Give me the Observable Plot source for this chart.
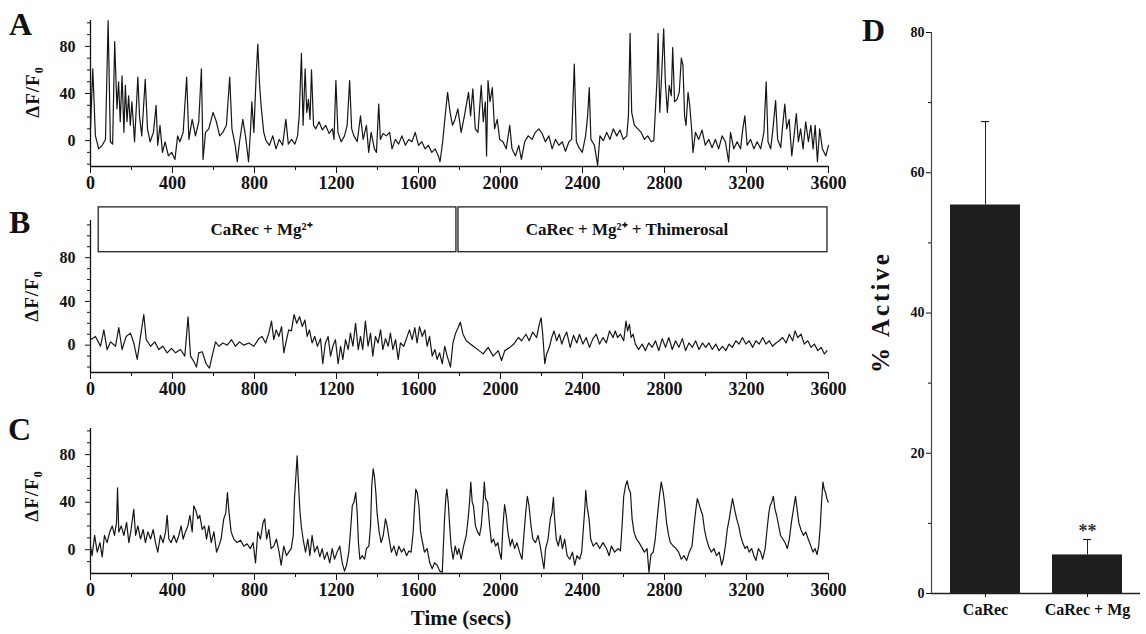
<!DOCTYPE html>
<html>
<head>
<meta charset="utf-8">
<script src="https://cdn.jsdelivr.net/npm/d3@7"></script>
<script src="https://cdn.jsdelivr.net/npm/@observablehq/plot@0.6"></script>
<style>
  body { margin: 0; background: #fff; }
  #fig { position: relative; width: 1146px; height: 634px; background: #fff; overflow: hidden;
         font-family: "Liberation Serif", "Times New Roman", serif; font-weight: bold; color: #111; }
  .abs { position: absolute; line-height: 1; white-space: nowrap; }
  .letter { font-size: 32px; }
  .ylab { font-size: 19px; letter-spacing: 1px; transform: translate(-50%, -50%) rotate(-90deg); }
  .ylab sub { font-size: 12px; vertical-align: -4px; }
</style>
</head>
<body>
<div id="fig">
  <div class="abs letter" style="left:9px;top:8px">A</div>
  <div class="abs letter" style="left:9px;top:206px">B</div>
  <div class="abs letter" style="left:8px;top:413px">C</div>
  <div class="abs letter" style="left:862px;top:14px">D</div>
  <div class="abs ylab" style="left:34px;top:92px">ΔF/F<sub>0</sub></div>
  <div class="abs ylab" style="left:33px;top:296px">ΔF/F<sub>0</sub></div>
  <div class="abs ylab" style="left:33px;top:496px">ΔF/F<sub>0</sub></div>
  <div class="abs" style="left:461px;top:608px;font-size:21px;transform:translateX(-50%)">Time (secs)</div>
  <div class="abs" style="left:880px;top:312px;font-size:25px;letter-spacing:3px;transform:translate(-50%,-50%) rotate(-90deg)">% Active</div>
  <div id="pA" class="abs" style="left:0;top:0"></div>
  <div id="pB" class="abs" style="left:0;top:200px"></div>
  <div id="pC" class="abs" style="left:0;top:410px"></div>
  <div id="pD" class="abs" style="left:860px;top:0"></div>
</div>
<script>
// ---------- data ----------
const xMajorTicks = [0, 400, 800, 1200, 1600, 2000, 2400, 2800, 3200, 3600];
const xMinorTicks = [200, 600, 1000, 1400, 1800, 2200, 2600, 3000, 3400];
const yMajorTicks = [0, 40, 80];
const yMinorTicks = [-20, -10, 10, 20, 30, 50, 60, 70, 90, 100, 110];

// Trace A: [time (s), ΔF/F0]
const traceA = [[0,10],[11,61],[24,4],[40,-7],[57,-4],[73,1],[86,102],[97,-1],[108,-3],[118,84],[129,27],[137,50],[145,16],[154,55],[163,7],[170,47],[178,16],[186,38],[194,13],[202,33],[215,-1],[231,54],[239,21],[250,4],[267,52],[278,10],[291,-1],[307,7],[320,30],[328,-4],[339,13],[351,-10],[364,-1],[380,-13],[396,-10],[412,-16],[425,4],[436,-1],[452,7],[469,54],[480,1],[496,18],[512,4],[528,16],[541,61],[549,-16],[561,7],[577,10],[598,24],[614,16],[630,4],[646,7],[663,13],[679,54],[690,10],[706,-4],[716,-18],[727,-1],[743,18],[756,4],[771,-18],[781,10],[787,33],[797,7],[808,55],[816,82],[824,50],[832,30],[845,7],[856,0],[873,-4],[889,4],[905,-7],[921,1],[937,-4],[953,18],[965,-3],[981,1],[997,-3],[1010,4],[1018,21],[1029,74],[1037,13],[1047,61],[1055,24],[1063,35],[1071,18],[1078,60],[1088,13],[1099,10],[1115,16],[1131,9],[1147,13],[1164,6],[1180,10],[1188,1],[1197,51],[1207,7],[1223,-1],[1239,4],[1252,13],[1264,51],[1274,10],[1285,4],[1301,-1],[1317,21],[1330,1],[1346,13],[1357,-10],[1369,7],[1385,-7],[1395,-10],[1406,31],[1414,1],[1427,6],[1443,4],[1459,7],[1471,-7],[1487,1],[1503,-3],[1519,4],[1536,-4],[1552,1],[1568,-1],[1584,7],[1600,-4],[1616,-1],[1632,-7],[1648,-4],[1665,-10],[1681,-7],[1697,-13],[1705,-18],[1718,-1],[1730,21],[1742,41],[1754,24],[1766,13],[1778,18],[1792,27],[1808,7],[1824,21],[1844,41],[1854,21],[1865,44],[1877,10],[1890,7],[1906,47],[1916,16],[1926,33],[1932,-13],[1939,51],[1949,33],[1960,45],[1971,10],[1984,18],[1996,1],[2012,-1],[2028,-7],[2045,13],[2056,-7],[2073,-13],[2089,-4],[2102,-16],[2118,-1],[2135,4],[2154,1],[2170,7],[2187,10],[2203,6],[2219,-1],[2236,4],[2252,-7],[2268,1],[2285,-4],[2301,-1],[2317,-9],[2334,-1],[2347,1],[2360,65],[2370,-1],[2383,-6],[2399,-10],[2415,4],[2425,21],[2433,45],[2441,1],[2458,-4],[2474,-21],[2485,4],[2502,0],[2518,7],[2534,1],[2550,10],[2567,4],[2583,9],[2599,1],[2616,4],[2624,21],[2632,91],[2640,24],[2653,13],[2670,10],[2686,7],[2702,1],[2718,4],[2735,-1],[2748,0],[2755,24],[2763,50],[2769,91],[2777,24],[2786,55],[2796,95],[2804,50],[2814,24],[2823,47],[2833,38],[2840,79],[2849,33],[2861,35],[2872,41],[2882,70],[2890,64],[2898,21],[2905,13],[2915,41],[2923,30],[2931,13],[2939,-10],[2951,7],[2967,1],[2983,9],[2999,-4],[3016,1],[3032,-6],[3048,1],[3064,-7],[3081,4],[3097,-1],[3113,-18],[3122,7],[3138,-7],[3154,-1],[3171,-7],[3182,10],[3192,21],[3203,-4],[3220,1],[3236,-7],[3252,-1],[3269,-7],[3285,7],[3296,50],[3305,-1],[3318,-7],[3329,10],[3342,34],[3352,1],[3367,-6],[3375,10],[3387,31],[3396,10],[3408,18],[3421,-13],[3432,4],[3443,23],[3453,-1],[3464,10],[3476,-7],[3489,16],[3502,-1],[3514,13],[3525,-7],[3535,13],[3546,-18],[3557,10],[3570,-7],[3587,-13],[3600,-4]];

// Trace B
const traceB = [[0,5],[24,8],[49,-1],[65,14],[81,-4],[98,3],[122,-1],[138,16],[154,-4],[174,8],[195,11],[211,2],[228,-13],[244,8],[260,28],[272,5],[293,-1],[314,3],[333,-4],[353,-1],[374,-7],[395,-3],[415,-7],[439,-4],[460,-10],[476,26],[488,-10],[504,-15],[517,-20],[528,-7],[545,-6],[564,-17],[580,-21],[597,-7],[610,3],[626,-1],[646,2],[667,0],[688,5],[707,-1],[727,3],[748,0],[772,2],[797,-1],[821,6],[837,8],[854,2],[870,11],[883,22],[894,5],[906,14],[919,8],[932,17],[943,-7],[954,3],[967,14],[980,13],[993,28],[1006,20],[1020,26],[1033,17],[1046,23],[1057,8],[1068,14],[1081,2],[1094,8],[1107,-1],[1122,6],[1133,-17],[1146,2],[1159,8],[1171,-10],[1182,-1],[1195,5],[1208,-17],[1220,-1],[1231,-13],[1244,5],[1257,-4],[1268,11],[1280,-1],[1293,20],[1306,-4],[1317,8],[1328,-4],[1341,22],[1354,-1],[1366,11],[1377,-10],[1390,8],[1403,2],[1415,14],[1426,-4],[1439,6],[1452,-1],[1463,11],[1475,-4],[1488,5],[1501,-13],[1512,2],[1528,-1],[1545,8],[1556,14],[1569,5],[1582,16],[1593,2],[1605,17],[1618,8],[1631,14],[1642,-1],[1654,8],[1667,-10],[1680,-4],[1691,-13],[1703,-7],[1716,-17],[1728,-1],[1740,-10],[1756,-20],[1768,2],[1781,11],[1793,16],[1804,21],[1817,10],[1833,4],[1853,1],[1874,-2],[1896,-5],[1915,-8],[1940,-2],[1964,-10],[1989,-5],[2005,-14],[2021,-5],[2046,-2],[2065,1],[2087,7],[2103,4],[2124,10],[2140,4],[2157,12],[2176,7],[2189,19],[2198,25],[2206,10],[2216,-17],[2225,-8],[2238,-2],[2250,7],[2261,13],[2274,4],[2287,10],[2299,1],[2310,7],[2323,12],[2340,-2],[2356,9],[2372,2],[2385,10],[2402,1],[2418,7],[2434,-2],[2451,6],[2467,10],[2483,1],[2500,7],[2516,2],[2532,13],[2549,7],[2560,13],[2571,7],[2585,10],[2601,4],[2612,22],[2620,13],[2629,19],[2637,7],[2647,10],[2658,1],[2674,-4],[2691,1],[2707,-5],[2723,2],[2740,-2],[2756,4],[2772,-5],[2789,6],[2805,-2],[2821,7],[2838,-4],[2854,4],[2870,-2],[2887,6],[2903,-5],[2919,2],[2936,-2],[2952,4],[2968,-4],[2985,2],[3001,-2],[3017,2],[3033,-4],[3050,1],[3066,-5],[3083,-1],[3099,-5],[3115,1],[3131,-2],[3148,4],[3164,1],[3180,7],[3197,1],[3213,4],[3230,-2],[3246,4],[3262,1],[3279,7],[3295,1],[3311,4],[3327,-1],[3344,2],[3360,4],[3376,7],[3393,2],[3409,10],[3425,4],[3437,13],[3450,7],[3466,10],[3482,1],[3499,4],[3515,-2],[3531,1],[3548,-5],[3564,-2],[3580,-8],[3593,-5]];

// Trace C
const traceC = [[0,3],[8,-5],[20,12],[33,-2],[46,6],[57,-6],[68,12],[81,6],[94,15],[106,20],[117,12],[127,23],[132,52],[138,15],[150,20],[163,12],[176,23],[187,6],[198,17],[211,34],[220,12],[231,20],[244,9],[257,17],[268,6],[280,15],[293,9],[306,17],[317,6],[328,-2],[341,12],[354,6],[366,15],[374,29],[382,9],[393,6],[407,12],[419,6],[431,12],[442,20],[452,9],[463,15],[475,20],[485,29],[496,15],[504,37],[514,33],[524,26],[533,29],[545,17],[556,20],[566,9],[577,20],[589,6],[602,15],[615,-2],[626,3],[637,9],[650,26],[660,31],[668,48],[676,31],[686,15],[699,9],[715,6],[732,8],[748,3],[764,5],[780,1],[793,6],[805,-11],[816,15],[829,9],[842,23],[850,26],[859,9],[870,17],[881,1],[894,3],[907,9],[919,-1],[930,-13],[943,3],[956,-5],[967,-2],[979,1],[989,12],[995,43],[1002,62],[1008,79],[1015,54],[1021,34],[1028,20],[1037,9],[1049,-2],[1060,9],[1070,-5],[1081,12],[1093,-2],[1106,3],[1119,-6],[1130,1],[1141,-8],[1154,-2],[1167,-11],[1179,1],[1190,-8],[1203,-2],[1216,3],[1228,-11],[1239,-18],[1249,-13],[1260,-2],[1268,15],[1277,37],[1285,40],[1294,48],[1301,31],[1307,6],[1314,-8],[1325,-5],[1337,-8],[1346,1],[1358,3],[1366,20],[1372,54],[1379,68],[1385,62],[1392,48],[1398,31],[1408,15],[1418,6],[1428,12],[1439,26],[1447,20],[1457,9],[1468,-2],[1480,3],[1493,-5],[1504,3],[1517,-2],[1529,1],[1542,-5],[1553,-1],[1564,-2],[1574,15],[1581,37],[1587,51],[1594,48],[1602,37],[1610,15],[1620,6],[1629,-2],[1642,1],[1655,-11],[1667,-16],[1678,-11],[1691,-13],[1704,-18],[1716,-19],[1720,-2],[1727,26],[1733,43],[1738,51],[1745,40],[1751,23],[1759,3],[1769,-8],[1779,3],[1789,-4],[1797,1],[1808,-8],[1820,3],[1833,12],[1842,26],[1849,40],[1855,57],[1862,40],[1868,37],[1878,20],[1888,15],[1898,12],[1906,20],[1914,37],[1921,57],[1927,43],[1937,40],[1947,20],[1956,6],[1966,9],[1976,3],[1987,6],[1995,-2],[2004,-8],[2012,20],[2020,38],[2028,29],[2036,15],[2048,3],[2057,9],[2069,1],[2080,6],[2093,-2],[2105,-8],[2114,12],[2123,31],[2131,45],[2139,37],[2149,20],[2158,9],[2171,6],[2183,12],[2194,3],[2204,-8],[2212,-16],[2220,1],[2232,9],[2243,26],[2251,31],[2258,44],[2264,26],[2272,9],[2282,3],[2292,12],[2302,1],[2313,9],[2325,-5],[2338,-8],[2351,-2],[2362,-13],[2373,-5],[2386,-8],[2396,-2],[2403,15],[2411,34],[2416,50],[2422,37],[2432,26],[2440,9],[2452,3],[2468,6],[2484,1],[2500,6],[2517,1],[2530,-5],[2541,3],[2557,-2],[2574,1],[2585,-1],[2593,20],[2601,45],[2610,54],[2618,58],[2626,51],[2634,48],[2642,26],[2651,15],[2663,9],[2676,6],[2689,2],[2702,-2],[2715,1],[2724,-19],[2734,-4],[2745,-2],[2755,9],[2764,26],[2774,43],[2784,57],[2794,48],[2802,37],[2810,23],[2820,12],[2829,6],[2843,3],[2856,1],[2869,-2],[2882,-8],[2895,-5],[2908,-9],[2921,-2],[2934,3],[2944,20],[2953,34],[2960,43],[2966,40],[2976,34],[2986,29],[2995,17],[3005,9],[3015,3],[3028,-2],[3041,1],[3054,-5],[3067,-2],[3079,-13],[3087,-8],[3097,3],[3106,17],[3116,26],[3126,37],[3132,43],[3142,34],[3152,26],[3162,20],[3171,12],[3181,6],[3193,1],[3203,3],[3213,-2],[3225,1],[3236,-5],[3246,-9],[3258,1],[3269,-2],[3279,-8],[3291,1],[3302,20],[3309,31],[3315,37],[3323,40],[3331,45],[3339,34],[3347,29],[3357,20],[3366,12],[3377,9],[3388,6],[3399,1],[3409,9],[3419,23],[3429,34],[3439,45],[3447,34],[3455,23],[3465,17],[3478,12],[3489,15],[3501,9],[3514,3],[3524,-2],[3534,1],[3544,-4],[3552,3],[3560,20],[3566,40],[3573,57],[3579,51],[3586,48],[3592,43],[3599,40]];

// Treatment periods shown above trace B
const periodStart = [40, 1795];
const periodEnd = [1785, 3595];
const periodLabels = ["CaRec + Mg²⁺", "CaRec + Mg²⁺ + Thimerosal"];

// Panel D bar chart
const barCategories = ["CaRec", "CaRec + Mg"];
const barValues = [55.4, 5.5];
const barErrors = [11.9, 2.2];
const barSignif = ["", "**"];
const dMajorTicks = [0, 20, 40, 60, 80];
const dMinorTicks = [10, 30, 50, 70];

// ---------- drawing ----------
const SERIF = '"Liberation Serif", "Times New Roman", serif';
const INK = "#161616";

function tracePanel(pairs, {height, marginTop, marginBottom, yDomain, extra = []}) {
  const data = pairs.map(([t, v]) => ({t, v}));
  const minor = yMinorTicks.filter(d => d > yDomain[0] && d < yDomain[1]);
  return Plot.plot({
    width: 860, height, marginLeft: 90, marginRight: 32, marginTop, marginBottom,
    style: {fontFamily: SERIF, fontWeight: "bold", color: "#111", background: "transparent", overflow: "visible"},
    x: {domain: [0, 3600]},
    y: {domain: yDomain},
    marks: [
      ...extra,
      Plot.line(data, {x: "t", y: "v", stroke: INK, strokeWidth: 1.2}),
      Plot.ruleY([yDomain[0]], {stroke: "#111", strokeWidth: 1.6}),
      Plot.ruleX([0], {y1: yDomain[0], y2: yDomain[1], stroke: "#111", strokeWidth: 1.3}),
      Plot.axisX(xMajorTicks, {tickSize: 7, tickPadding: 3, fontSize: 18, fontWeight: "bold", tickFormat: d => String(d), label: null}),
      Plot.axisX(xMinorTicks, {tickSize: 4, tickFormat: () => "", label: null}),
      Plot.axisY(yMajorTicks, {tickSize: 5, tickPadding: 10, fontSize: 16, fontWeight: "bold", tickFormat: d => String(d), label: null}),
      Plot.axisY(minor, {tickSize: 3, tickFormat: () => "", label: null})
    ]
  });
}

document.getElementById("pA").append(tracePanel(traceA, {height: 200, marginTop: 20, marginBottom: 34, yDomain: [-22, 102]}));

const periods = periodStart.map((s, i) => ({s, e: periodEnd[i], label: periodLabels[i], mid: (s + periodEnd[i]) / 2}));
document.getElementById("pB").append(tracePanel(traceB, {
  height: 210, marginTop: 20, marginBottom: 38, yDomain: [-25, 114],
  extra: [
    Plot.rect(periods, {x1: "s", x2: "e", y1: 85, y2: 126, fill: "white", stroke: "#222", strokeWidth: 1.3}),
    Plot.text(periods, {x: "mid", y: 105.5, text: "label", dx: -16, fontSize: 17, fontWeight: "bold", fill: "#111"})
  ]
}));

document.getElementById("pC").append(tracePanel(traceC, {height: 224, marginTop: 18, marginBottom: 61, yDomain: [-20, 102]}));

const barData = barCategories.map((c, i) => ({c, v: barValues[i], e: barErrors[i], s: barSignif[i]}));
document.getElementById("pD").append(Plot.plot({
  width: 286, height: 634, marginLeft: 71, marginRight: 6, marginTop: 32, marginBottom: 41,
  style: {fontFamily: SERIF, fontWeight: "bold", color: "#111", background: "transparent", overflow: "visible"},
  x: {type: "band", domain: barCategories, range: [74, 278], paddingInner: 0.314, paddingOuter: 0.157},
  y: {domain: [0, 80]},
  marks: [
    Plot.barY(barData, {x: "c", y: "v", fill: "#1e1e1e"}),
    Plot.ruleX(barData, {x: "c", y1: "v", y2: d => d.v + d.e, stroke: "#222", strokeWidth: 1}),
    Plot.tickY(barData, {x: "c", y: d => d.v + d.e, insetLeft: 31, insetRight: 31, stroke: "#222", strokeWidth: 1.2}),
    Plot.text(barData.filter(d => d.s), {x: "c", y: d => d.v + d.e, text: "s", dy: -8, fontSize: 18, fontWeight: "bold", fill: "#333"}),
    Plot.ruleY([0], {stroke: "#222", strokeWidth: 1.5}),
    Plot.frame({anchor: "left", stroke: "#444", strokeWidth: 1.2}),
    Plot.axisX({tickSize: 4, tickPadding: 6, fontSize: 16, fontWeight: "bold", label: null}),
    Plot.axisY(dMajorTicks, {tickSize: 5, tickPadding: 2, fontSize: 14, fontWeight: "bold", tickFormat: d => String(d), label: null}),
    Plot.axisY(dMinorTicks, {tickSize: 3, tickFormat: () => "", label: null})
  ]
}));
</script>
</body>
</html>
